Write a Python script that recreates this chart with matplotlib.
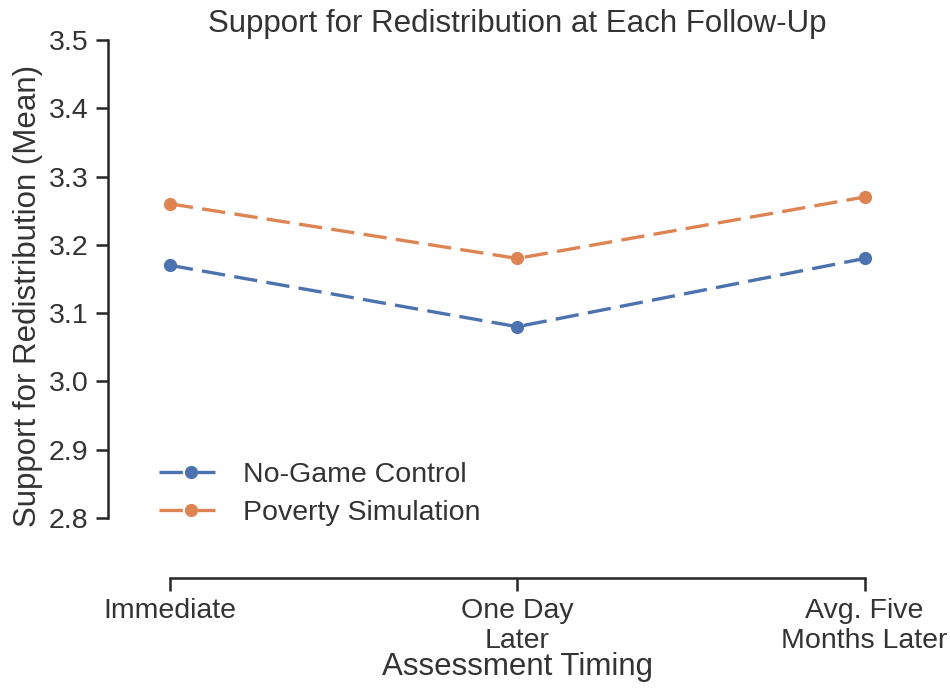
import matplotlib
matplotlib.use("Agg")
import matplotlib.pyplot as plt
import seaborn as sns

timing = ["Immediate", "One Day\nLater", "Avg. Five\nMonths Later"]
control = [3.17, 3.08, 3.18]
poverty = [3.26, 3.18, 3.27]
groups = ["No-Game Control", "Poverty Simulation"]

sns.set_theme(style="ticks")
plt.rcParams['font.family'] = ['Liberation Sans', 'DejaVu Sans']
pal = sns.color_palette("deep")

fig = plt.figure(figsize=(9.5, 6.94), dpi=100)
ax = fig.add_axes([0.124, 0.2046, 0.841, 0.7378])

xs = range(len(timing))
for vals, col, lab in [(control, pal[0], groups[0]), (poverty, pal[1], groups[1])]:
    ax.plot(xs, vals, color=col, lw=2.4, marker="o", markersize=8.5,
            dashes=(7, 2.8), label=lab)

ax.set_xlim(-0.15, 2.15)
ax.set_ylim(2.75, 3.5)
ax.set_yticks([2.8, 2.9, 3.0, 3.1, 3.2, 3.3, 3.4, 3.5])
ax.set_xticks(list(xs))
ax.set_xticklabels(timing)

for s in ["top", "right"]:
    ax.spines[s].set_visible(False)
ax.spines["left"].set_bounds(2.8, 3.5)
ax.spines["bottom"].set_bounds(0, 2)
ax.spines["left"].set_position(("outward", 7))
ax.spines["bottom"].set_position(("outward", 19))
for s in ["left", "bottom"]:
    ax.spines[s].set_linewidth(1.8)
    ax.spines[s].set_color(".15")

ax.tick_params(axis="both", labelsize=20.5, width=1.8, length=9, color=".15",
               labelcolor=".2")
ax.tick_params(axis="x", pad=5)
ax.tick_params(axis="y", pad=5)

ax.set_xlabel("Assessment Timing", fontsize=22.5, color=".2", labelpad=-1)
ax.set_ylabel("Support for Redistribution (Mean)", fontsize=22.5, color=".2",
              labelpad=4)
ax.set_title("Support for Redistribution at Each Follow-Up", fontsize=22.5,
             color=".2", pad=6)

leg = ax.legend(loc="lower left", bbox_to_anchor=(0.02, 0.0), frameon=False,
                fontsize=20.5, handlelength=2.2, handletextpad=0.75,
                labelspacing=0.45)
for t in leg.get_texts():
    t.set_color(".2")

fig.savefig("out.png", dpi=100)
